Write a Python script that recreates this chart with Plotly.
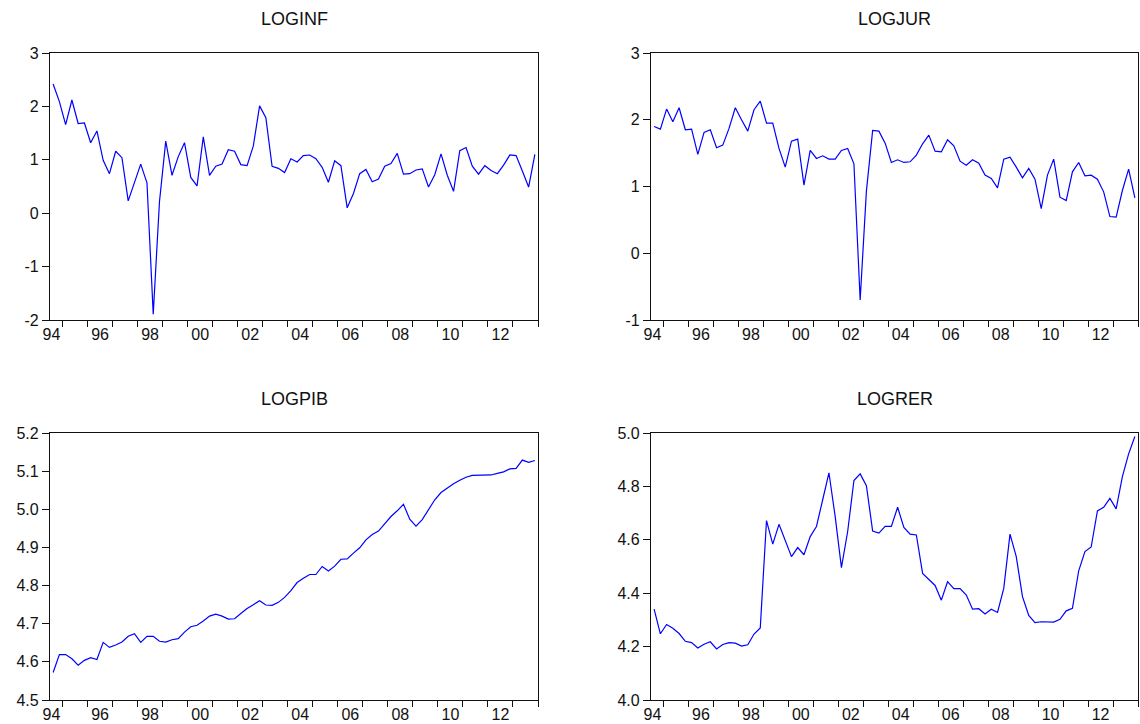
import plotly.graph_objects as go

# Quarterly observations 1994Q3 .. 2013Q4 (78 quarters)
start_year, start_q, n_obs = 1994, 3, 78
periods = []
y, q = start_year, start_q
for _ in range(n_obs):
    periods.append((y, q))
    q += 1
    if q > 4:
        q = 1
        y += 1
# position of each quarter at the centre of its interval on a year scale
xpos = [yy + (qq - 1) / 4 + 0.125 for yy, qq in periods]

loginf = [2.42, 2.09, 1.66, 2.12, 1.68, 1.69, 1.32, 1.54, 0.99, 0.74,
          1.16, 1.04, 0.23, 0.56, 0.92, 0.57, -1.89, 0.22, 1.35, 0.71,
          1.06, 1.32, 0.67, 0.51, 1.43, 0.71, 0.88, 0.92, 1.19, 1.16,
          0.91, 0.89, 1.26, 2.01, 1.79, 0.88, 0.84, 0.76, 1.02, 0.96,
          1.08, 1.09, 1.02, 0.86, 0.58, 0.98, 0.89, 0.10, 0.37, 0.74,
          0.82, 0.59, 0.64, 0.88, 0.93, 1.12, 0.73, 0.74, 0.81, 0.83,
          0.49, 0.72, 1.11, 0.71, 0.41, 1.17, 1.23, 0.88, 0.73, 0.89,
          0.80, 0.74, 0.90, 1.09, 1.08, 0.79, 0.49, 1.10]

logjur = [1.90, 1.86, 2.16, 1.97, 2.18, 1.85, 1.86, 1.48, 1.81, 1.85,
          1.58, 1.62, 1.87, 2.18, 2.00, 1.83, 2.15, 2.28, 1.95, 1.95,
          1.57, 1.29, 1.68, 1.71, 1.02, 1.54, 1.42, 1.46, 1.41, 1.41,
          1.54, 1.57, 1.34, -0.70, 0.93, 1.84, 1.83, 1.65, 1.36, 1.40,
          1.36, 1.37, 1.47, 1.64, 1.77, 1.53, 1.52, 1.70, 1.61, 1.38,
          1.32, 1.40, 1.35, 1.17, 1.12, 0.98, 1.41, 1.44, 1.29, 1.13,
          1.27, 1.11, 0.67, 1.17, 1.41, 0.84, 0.79, 1.22, 1.36, 1.16,
          1.17, 1.11, 0.92, 0.55, 0.54, 0.94, 1.26, 0.83]

logpib = [4.572, 4.619, 4.619, 4.608, 4.591, 4.604, 4.611, 4.606, 4.651, 4.638,
          4.644, 4.652, 4.667, 4.674, 4.651, 4.667, 4.667, 4.654, 4.652, 4.658,
          4.661, 4.678, 4.692, 4.696, 4.707, 4.720, 4.725, 4.720, 4.712, 4.713,
          4.727, 4.740, 4.750, 4.760, 4.749, 4.748, 4.756, 4.769, 4.787, 4.808,
          4.819, 4.829, 4.829, 4.850, 4.838, 4.851, 4.869, 4.870, 4.885, 4.899,
          4.920, 4.934, 4.943, 4.963, 4.981, 4.996, 5.013, 4.974, 4.956, 4.973,
          4.998, 5.025, 5.044, 5.056, 5.067, 5.076, 5.084, 5.089, 5.089, 5.089,
          5.090, 5.094, 5.098, 5.106, 5.107, 5.129, 5.123, 5.128]

logrer = [4.340, 4.248, 4.283, 4.269, 4.249, 4.220, 4.215, 4.195, 4.209, 4.218,
          4.191, 4.208, 4.215, 4.213, 4.202, 4.207, 4.247, 4.270, 4.672, 4.584,
          4.658, 4.597, 4.537, 4.571, 4.544, 4.612, 4.650, 4.750, 4.851, 4.687,
          4.496, 4.631, 4.822, 4.847, 4.803, 4.633, 4.625, 4.650, 4.650, 4.722,
          4.646, 4.621, 4.618, 4.474, 4.453, 4.429, 4.374, 4.443, 4.417, 4.417,
          4.393, 4.340, 4.342, 4.322, 4.340, 4.328, 4.418, 4.621, 4.537, 4.387,
          4.317, 4.290, 4.293, 4.292, 4.292, 4.302, 4.334, 4.343, 4.484, 4.556,
          4.573, 4.708, 4.722, 4.755, 4.716, 4.837, 4.922, 4.987]

titles = ["LOGINF", "LOGJUR", "LOGPIB", "LOGRER"]
series = [loginf, logjur, logpib, logrer]
yticks = [[-2, -1, 0, 1, 2, 3],
          [-1, 0, 1, 2, 3],
          [4.5, 4.6, 4.7, 4.8, 4.9, 5.0, 5.1, 5.2],
          [4.0, 4.2, 4.4, 4.6, 4.8, 5.0]]
yfmt = ["{:d}", "{:d}", "{:.1f}", "{:.1f}"]

label_years = [1994, 1996, 1998, 2000, 2002, 2004, 2006, 2008, 2010, 2012]
year_ticks = list(range(1995, 2015))

W, H = 1140, 724
# panel pixel boxes: (left, right, top, bottom)
boxes = [(50, 538, 53, 320), (651, 1138, 53, 320),
         (50, 538, 433, 700), (651, 1138, 433, 700)]

font_family = "Liberation Sans, Arial, sans-serif"
fig = go.Figure()
layout = dict(width=W, height=H, margin=dict(l=0, r=0, t=0, b=0, autoexpand=False),
              paper_bgcolor="white", plot_bgcolor="white", showlegend=False,
              font=dict(family=font_family, size=16, color="black"))
annotations = []
for k in range(4):
    n = "" if k == 0 else str(k + 1)
    l, r, t, b = boxes[k]
    fig.add_trace(go.Scatter(x=xpos, y=series[k], mode="lines",
                             line=dict(color="#0000FF", width=1.2),
                             xaxis="x" + n, yaxis="y" + n, hoverinfo="skip"))
    lblpos = [yr + 0.5 if yr != 1994 else 1994.56 for yr in label_years]
    layout["xaxis" + n] = dict(
        domain=[l / W, r / W], anchor="y" + n, range=[1994.5, 2014.0],
        automargin=False,
        tickmode="array", tickvals=lblpos,
        ticktext=["%02d" % (yr % 100) for yr in label_years],
        ticks="", ticklen=0, showgrid=False, zeroline=False,
        showline=True, linecolor="#111", linewidth=1.2, mirror=True,
        tickfont=dict(size=16, family=font_family, color="#111"),
        minor=dict(tickmode="array", tickvals=year_ticks, ticks="outside",
                   ticklen=6, tickwidth=1.2, tickcolor="#111", showgrid=False),
        fixedrange=True)
    yt = yticks[k]
    layout["yaxis" + n] = dict(
        domain=[1 - b / H, 1 - t / H], anchor="x" + n,
        automargin=False,
        range=[yt[0], yt[-1]], tickmode="array", tickvals=yt,
        ticktext=[yfmt[k].format(v) for v in yt],
        ticks="outside", ticklen=7, tickwidth=1.2, tickcolor="#111",
        showgrid=False, zeroline=False, showline=True, linecolor="#111",
        linewidth=1.2, mirror=True,
        tickfont=dict(size=16, family=font_family, color="#111"),
        fixedrange=True)
    annotations.append(dict(text=titles[k], x=(l + r) / 2 / W,
                            y=1 - (t - 34) / H, xref="paper", yref="paper",
                            xanchor="center", yanchor="middle", showarrow=False,
                            font=dict(size=18, family=font_family, color="#111")))
layout["annotations"] = annotations
fig.update_layout(**layout)
fig.write_html("out.html", config={"displayModeBar": False},
               post_script="document.body.style.margin='0';document.body.style.overflow='hidden';")
